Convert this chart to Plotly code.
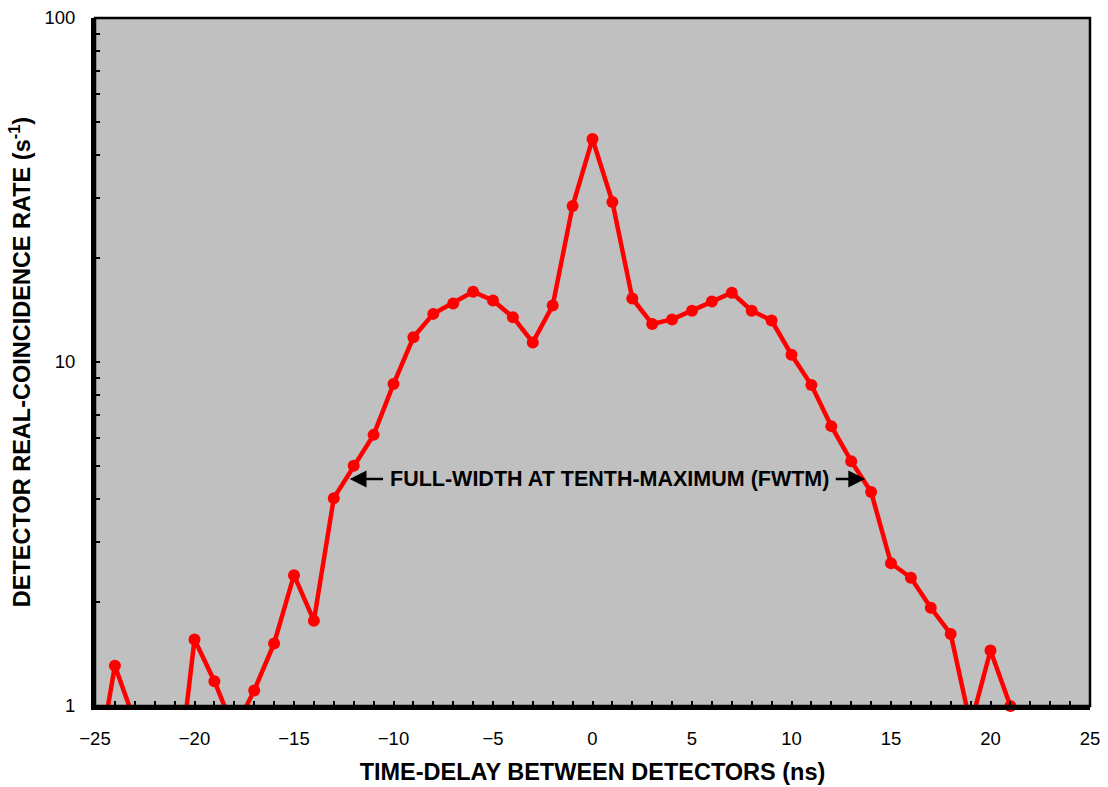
import math
import plotly.graph_objects as go

# Time delay between detectors (ns) and measured real-coincidence rate (s^-1)
delay_ns = [-25, -24, -23, -22, -21, -20, -19, -18, -17, -16, -15, -14, -13, -12,
            -11, -10, -9, -8, -7, -6, -5, -4, -3, -2, -1, 0, 1, 2, 3, 4, 5, 6,
            7, 8, 9, 10, 11, 12, 13, 14, 15, 16, 17, 18, 19, 20, 21, 22]
rate = [0.6, 1.31, 0.9, 0.5, 0.5, 1.56, 1.18, 0.85, 1.11, 1.52, 2.40, 1.77, 4.02, 4.99,
        6.14, 8.63, 11.8, 13.8, 14.8, 16.0, 15.1, 13.5, 11.4, 14.6, 28.4, 44.5, 29.2, 15.3,
        12.9, 13.3, 14.1, 15.0, 15.9, 14.1, 13.2, 10.5, 8.57, 6.51, 5.15, 4.19, 2.60,
        2.36, 1.93, 1.62, 0.88, 1.45, 1.0, 0.8]

x_ticks = [-25, -20, -15, -10, -5, 0, 5, 10, 15, 20, 25]
y_ticks = [1, 10, 100]
y_minor = [2, 3, 4, 5, 6, 7, 8, 9, 20, 30, 40, 50, 60, 70, 80, 90]

fwtm_label = "FULL-WIDTH AT TENTH-MAXIMUM (FWTM)"
fwtm_left, fwtm_right = -12.2, 13.7   # arrow tips on the curve
fwtm_level = 4.57                      # rate at which the width is marked

RED = "#FF0000"
FONT = "Liberation Sans, Arial, sans-serif"

fig = go.Figure()
# connecting line (clipped to the plotting area)
fig.add_trace(go.Scatter(x=delay_ns, y=rate, mode="lines",
                         line=dict(color=RED, width=4.5), hoverinfo="skip"))
# markers for the points inside the visible range
vis = [(x, y) for x, y in zip(delay_ns, rate) if y >= 1]
fig.add_trace(go.Scatter(x=[p[0] for p in vis], y=[p[1] for p in vis], mode="markers",
                         marker=dict(color=RED, size=12), cliponaxis=False))

ylog = math.log10(fwtm_level)
text_left, text_right = -10.45, 12.15
for tip, tail in ((fwtm_left, text_left), (fwtm_right, text_right)):
    fig.add_annotation(x=tip, y=ylog, ax=tail, ay=ylog, xref="x", yref="y",
                       axref="x", ayref="y", text="", showarrow=True, arrowhead=2,
                       arrowsize=1.4, arrowwidth=2.4, arrowcolor="black", standoff=0)
fig.add_annotation(x=(text_left + text_right) / 2, y=ylog, xref="x", yref="y",
                   text="<b>" + fwtm_label + "</b>", showarrow=False,
                   font=dict(family=FONT, size=21.5, color="black"))

# thin frame on top/right
fig.add_shape(type="rect", xref="paper", yref="paper", x0=0, y0=0, x1=1, y1=1,
              line=dict(color="black", width=2.5), layer="above")

fig.update_layout(
    width=1108, height=787,
    margin=dict(l=95, r=18, t=18, b=81),
    paper_bgcolor="white", plot_bgcolor="#C0C0C0",
    showlegend=False,
    font=dict(family=FONT, size=18, color="black"),
    xaxis=dict(range=[-25, 25], tickvals=x_ticks, ticks="inside", ticklen=5,
               tickwidth=2, tickcolor="black", showgrid=False, zeroline=False,
               showline=True, linewidth=4, linecolor="black", automargin=False,
               ticklabelstandoff=13, tickfont=dict(size=18.5),
               minor=dict(dtick=1, ticks="inside", ticklen=5, tickwidth=2,
                          tickcolor="black", showgrid=False),
               title=dict(text="<b>TIME-DELAY BETWEEN DETECTORS (ns)</b>",
                          font=dict(size=23.5), standoff=16)),
    yaxis=dict(type="log", range=[0, 2], tickvals=y_ticks, ticktext=["1", "10", "100"],
               ticks="inside", ticklen=5, tickwidth=2, tickcolor="black",
               showgrid=False, zeroline=False, showline=True, linewidth=4,
               linecolor="black", automargin=False,
               ticklabelstandoff=12, tickfont=dict(size=18.5),
               minor=dict(tickvals=y_minor, ticks="inside", ticklen=5, tickwidth=2,
                          tickcolor="black", showgrid=False),
               title=dict(text="<b>DETECTOR REAL-COINCIDENCE RATE (s<sup>-1</sup>)</b>",
                          font=dict(size=23.5), standoff=8)),
)

fig.write_html("out.html")
